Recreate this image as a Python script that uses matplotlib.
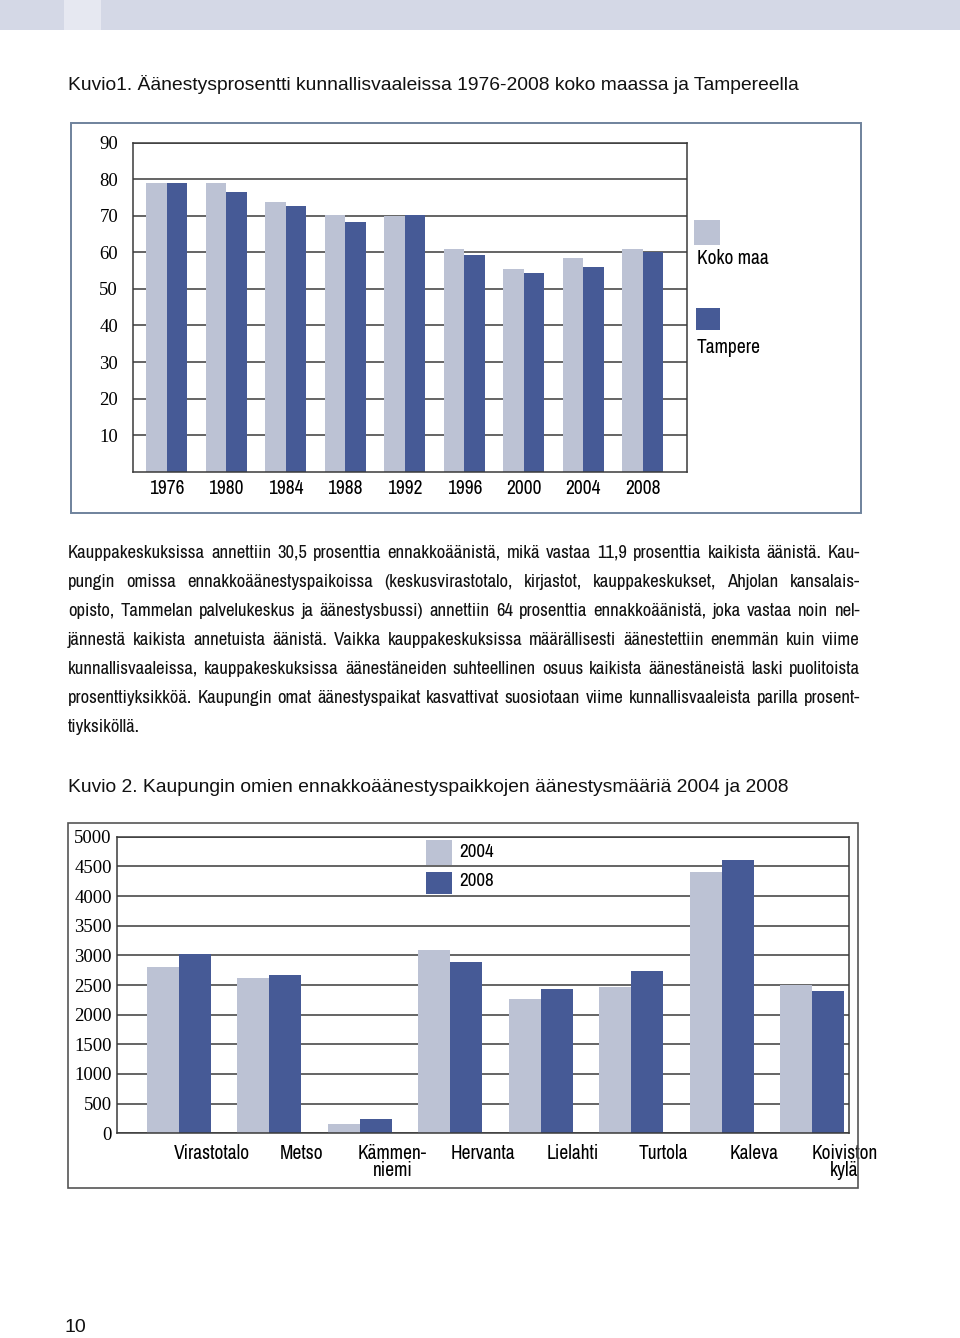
import matplotlib
matplotlib.use("Agg")
import matplotlib.pyplot as plt
from matplotlib.patches import Rectangle
from matplotlib import font_manager

# --- data -------------------------------------------------------------
years = ["1976", "1980", "1984", "1988", "1992", "1996", "2000", "2004", "2008"]
koko_maa = [78.9, 78.9, 73.8, 70.2, 70.0, 60.9, 55.5, 58.5, 60.9]
tampere = [78.9, 76.6, 72.8, 68.4, 70.1, 59.3, 54.3, 55.9, 60.1]

places = ["Virastotalo", "Metso", "Kämmen-\nniemi", "Hervanta", "Lielahti",
          "Turtola", "Kaleva", "Koiviston\nkylä"]
votes_2004 = [2810, 2610, 160, 3085, 2260, 2460, 4400, 2505]
votes_2008 = [3020, 2670, 240, 2885, 2435, 2740, 4610, 2395]

paragraph = [
    "Kauppakeskuksissa annettiin 30,5 prosenttia ennakkoäänistä, mikä vastaa 11,9 prosenttia kaikista äänistä. Kau-",
    "pungin omissa ennakkoäänestyspaikoissa (keskusvirastotalo, kirjastot, kauppakeskukset, Ahjolan kansalais-",
    "opisto, Tammelan palvelukeskus ja äänestysbussi) annettiin 64 prosenttia ennakkoäänistä, joka vastaa noin nel-",
    "jännestä kaikista annetuista äänistä. Vaikka kauppakeskuksissa määrällisesti äänestettiin enemmän kuin viime",
    "kunnallisvaaleissa, kauppakeskuksissa äänestäneiden suhteellinen osuus kaikista äänestäneistä laski puolitoista",
    "prosenttiyksikköä. Kaupungin omat äänestyspaikat kasvattivat suosiotaan viime kunnallisvaaleista parilla prosent-",
    "tiyksiköllä.",
]

LIGHT = "#bcc2d4"
DARK = "#465a96"
GRID = "#3a3a3a"

# a narrow sans if one is around, else plain Liberation Sans
NARROW = "Liberation Sans"
for f in font_manager.fontManager.ttflist:
    if ("Narrow" in f.name or "Condensed" in f.name) and f.style == "normal" and f.weight in (400, "normal", "regular"):
        NARROW = f.name
        break
SANS = "Liberation Sans"
SERIF = "Liberation Serif"

W, H = 960, 1338
fig = plt.figure(figsize=(W / 100, H / 100), dpi=100)


def fx(px):
    return px / W


def fy(py):
    return 1 - py / H


def box(x0, y0, x1, y1):
    return [fx(x0), fy(y1), (x1 - x0) / W, (y1 - y0) / H]


def frame(x0, y0, x1, y1, color, lw):
    fig.patches.append(Rectangle((fx(x0), fy(y1)), (x1 - x0) / W, (y1 - y0) / H,
                                 transform=fig.transFigure, fill=False,
                                 edgecolor=color, linewidth=lw))


def square(x0, y0, x1, y1, color):
    fig.patches.append(Rectangle((fx(x0), fy(y1)), (x1 - x0) / W, (y1 - y0) / H,
                                 transform=fig.transFigure, facecolor=color,
                                 edgecolor="none"))


renderer = fig.canvas.get_renderer()


def text_width(s, size, family):
    t = fig.text(0, 0, s, fontsize=size, family=family)
    w = t.get_window_extent(renderer).width
    t.remove()
    return w


# top banner
square(0, 0, 960, 30, "#d4d8e6")
square(64, 0, 101, 30, "#e6e8f1")

# --- Kuvio 1 ----------------------------------------------------------
fig.text(fx(68), fy(85), "Kuvio1. Äänestysprosentti kunnallisvaaleissa 1976-2008 koko maassa ja Tampereella",
         fontsize=13.85, family=SANS, va="center", ha="left", color="#111")
frame(71, 123, 861, 513, "#6f829c", 1.4)

ax1 = fig.add_axes(box(133.3, 142.7, 686.7, 471.7))
x = list(range(len(years)))
bw = 0.345
ax1.bar([i - bw / 2 for i in x], koko_maa, width=bw, color=LIGHT, zorder=2)
ax1.bar([i + bw / 2 for i in x], tampere, width=bw, color=DARK, zorder=2)
ax1.set_xlim(-0.562, len(years) - 1 + 0.738)
ax1.set_ylim(0, 90)
ax1.set_yticks(range(10, 100, 10))
ax1.set_yticklabels([str(v) for v in range(10, 100, 10)], family=SERIF, fontsize=13.5)
ax1.set_xticks(x)
ax1.set_xticklabels(years, family=NARROW, fontsize=14)
ax1.tick_params(axis="y", length=0, pad=11)
ax1.tick_params(axis="x", length=0, pad=5)
ax1.yaxis.grid(True, color=GRID, linewidth=1.1)
ax1.set_axisbelow(True)
for s in ax1.spines.values():
    s.set_color(GRID)
    s.set_linewidth(1.1)

square(693.5, 220, 719.5, 245, LIGHT)
fig.text(fx(697), fy(258), "Koko maa", fontsize=14, family=NARROW, va="center", ha="left")
square(695.5, 308, 719.5, 330, DARK)
fig.text(fx(697), fy(347), "Tampere", fontsize=14, family=NARROW, va="center", ha="left")

# --- paragraph (justified) --------------------------------------------
left, right = 68, 860
base = 13
widest = max(text_width(line, base, NARROW) for line in paragraph)
psize = base * (right - left) / widest * 0.99
space = text_width("a a", psize, NARROW) - text_width("aa", psize, NARROW)

for k, line in enumerate(paragraph):
    yy = fy(553 + 29 * k)
    words = line.split(" ")
    texts = [fig.text(0, yy, w, fontsize=psize, family=NARROW, va="center", ha="left", color="#111")
             for w in words]
    widths = [t.get_window_extent(renderer).width for t in texts]
    if k == len(paragraph) - 1 or len(words) == 1:
        gap = space
    else:
        gap = (right - left - sum(widths)) / (len(words) - 1)
    pos = left
    for t, w in zip(texts, widths):
        t.set_x(fx(pos))
        pos += w + gap

# --- Kuvio 2 ----------------------------------------------------------
fig.text(fx(68), fy(787), "Kuvio 2. Kaupungin omien ennakkoäänestyspaikkojen äänestysmääriä 2004 ja 2008",
         fontsize=13.85, family=SANS, va="center", ha="left", color="#111")
frame(68, 823, 858, 1188, "#555555", 1.2)

ax2 = fig.add_axes(box(117.3, 836.7, 849.3, 1133.3))
x2 = list(range(len(places)))
bw2 = 0.354
ax2.bar([i - bw2 / 2 for i in x2], votes_2004, width=bw2, color=LIGHT, zorder=2)
ax2.bar([i + bw2 / 2 for i in x2], votes_2008, width=bw2, color=DARK, zorder=2)
ax2.set_xlim(-0.682, len(places) - 1 + 0.413)
ax2.set_ylim(0, 5000)
ax2.set_yticks(range(0, 5001, 500))
ax2.set_yticklabels([str(v) for v in range(0, 5001, 500)], family=SERIF, fontsize=13.5)
ax2.set_xticks([i + 0.36 for i in x2])
ax2.set_xticklabels(places, family=NARROW, fontsize=14, linespacing=0.85)
ax2.tick_params(axis="y", length=0, pad=4)
ax2.tick_params(axis="x", length=0, pad=8)
ax2.yaxis.grid(True, color=GRID, linewidth=1.1)
ax2.set_axisbelow(True)
for s in ax2.spines.values():
    s.set_color(GRID)
    s.set_linewidth(1.1)

square(425.5, 839.5, 451.5, 865, LIGHT)
fig.text(fx(459), fy(852), "2004", fontsize=13.7, family=NARROW, va="center", ha="left")
square(425.5, 871.5, 451.5, 893.5, DARK)
fig.text(fx(459), fy(881), "2008", fontsize=13.7, family=NARROW, va="center", ha="left")

fig.text(fx(65), fy(1328), "10", fontsize=14, family=SANS, va="center", ha="left", color="#111")

fig.savefig("out.png", dpi=100)
